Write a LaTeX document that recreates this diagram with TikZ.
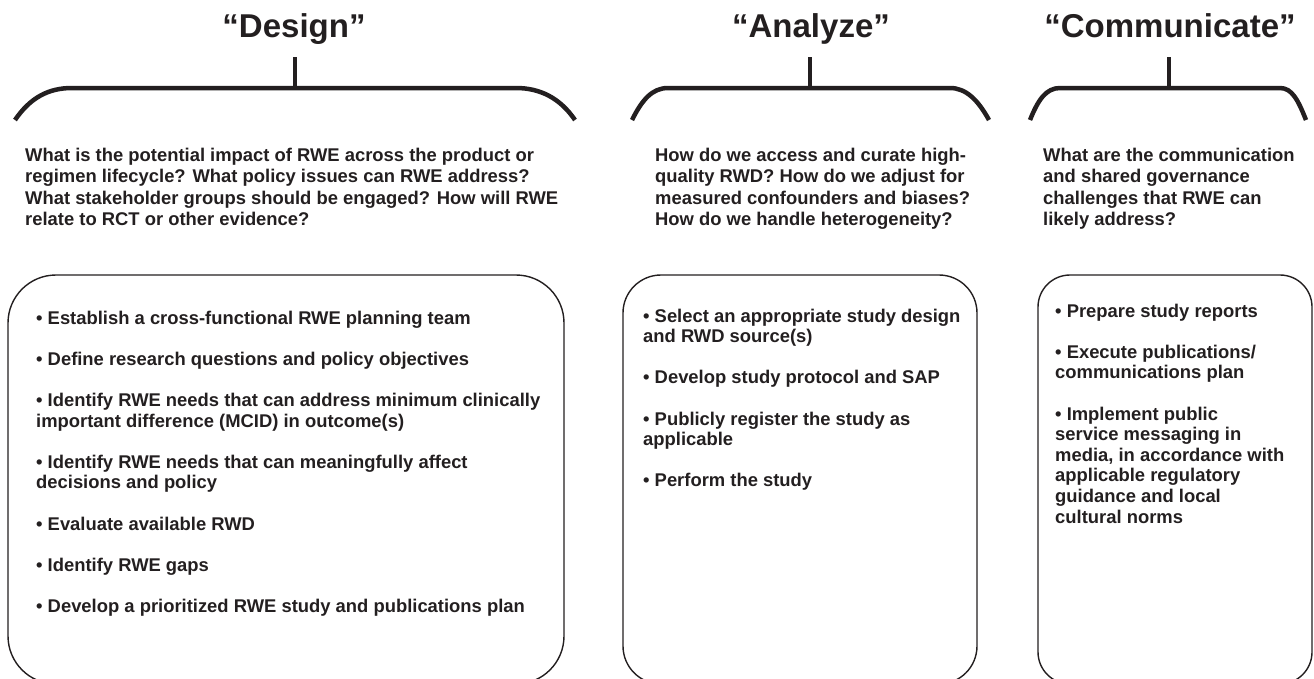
\documentclass[tikz,border=0pt]{standalone}
\usepackage{fontspec}
\setmainfont{Liberation Sans}
\definecolor{ink}{HTML}{231F20}
\begin{document}
\begin{tikzpicture}[x=1pt,y=-1pt,
  every node/.style={text=ink},
  phase/.style={font=\fontsize{33}{36}\selectfont\bfseries, anchor=base, inner sep=0pt},
  bracket/.style={draw=ink, line width=4.5pt, line join=round},
  % multi-line nodes are placed by the baseline of their last line
  question/.style={font=\fontsize{18.4}{21.6}\selectfont\bfseries, anchor=base west, align=left, inner sep=0pt},
  item/.style={font=\fontsize{18.4}{20.6}\selectfont\bfseries, anchor=base west, align=left, inner sep=0pt},
  panel/.style={draw=ink, line width=1.4pt}]
\useasboundingbox (0,0) rectangle (1314,678);
\clip (0,0) rectangle (1314,678);

% phase titles
\node[phase] (tD) at (294,37) {“Design”};
\node[phase] (tA) at (811,37) {“Analyze”};
\node[phase] (tC) at (1170,37) {“Communicate”};

% brackets under the titles
\draw[bracket] (15,120) .. controls (30,98) and (48,88) .. (72,88) -- (516,88)
  .. controls (540,88) and (560,98) .. (575,120);
\draw[bracket] (295,57) -- (295,88);
\draw[bracket] (632,120) .. controls (642,100) and (652,88) .. (668,88) -- (950,88)
  .. controls (966,88) and (978,100) .. (989,120);
\draw[bracket] (810,57) -- (810,88);
\draw[bracket] (1030,120) .. controls (1038,100) and (1046,88) .. (1060,88) -- (1280,88)
  .. controls (1292,88) and (1298,100) .. (1306,120);
\draw[bracket] (1169,57) -- (1169,88);

% guiding questions
\node[question] (qD) at (25,225.8) {What is the potential impact of RWE across the product or\\
regimen lifecycle? What policy issues can RWE address?\\
What stakeholder groups should be engaged? How will RWE\\
relate to RCT or other evidence?};
\node[question] (qA) at (655,225.8) {How do we access and curate high-\\
quality RWD? How do we adjust for\\
measured confounders and biases?\\
How do we handle heterogeneity?};
\node[question] (qC) at (1043,225.8) {What are the communication\\
and shared governance\\
challenges that RWE can\\
likely address?};

% activity panels (their lower edge runs below the page)
\draw[panel, rounded corners=48pt] (8,275) rectangle (564,684);
\draw[panel, rounded corners=38pt] (623,275) rectangle (977,684);
\draw[panel, rounded corners=32pt] (1038,275) rectangle (1312,684);

% design activities
\node[item] (d1) at (36,324) {• Establish a cross-functional RWE planning team};
\node[item] (d2) at (36,365.2) {• Define research questions and policy objectives};
\node[item] (d3) at (36,427) {• Identify RWE needs that can address minimum clinically\\important difference (MCID) in outcome(s)};
\node[item] (d4) at (36,488.8) {• Identify RWE needs that can meaningfully affect\\decisions and policy};
\node[item] (d5) at (36,530) {• Evaluate available RWD};
\node[item] (d6) at (36,571.2) {• Identify RWE gaps};
\node[item] (d7) at (36,612.4) {• Develop a prioritized RWE study and publications plan};

% analysis activities
\node[item] (a1) at (643,342.6) {• Select an appropriate study design\\and RWD source(s)};
\node[item] (a2) at (643,383.8) {• Develop study protocol and SAP};
\node[item] (a3) at (643,445.6) {• Publicly register the study as\\applicable};
\node[item] (a4) at (643,486.8) {• Perform the study};

% communication activities
\node[item] (c1) at (1055,317) {• Prepare study reports};
\node[item] (c2) at (1055,378.8) {• Execute publications/\\communications plan};
\node[item] (c3) at (1055,523) {• Implement public\\service messaging in\\media, in accordance with\\applicable regulatory\\guidance and local\\cultural norms};
\end{tikzpicture}
\end{document}
